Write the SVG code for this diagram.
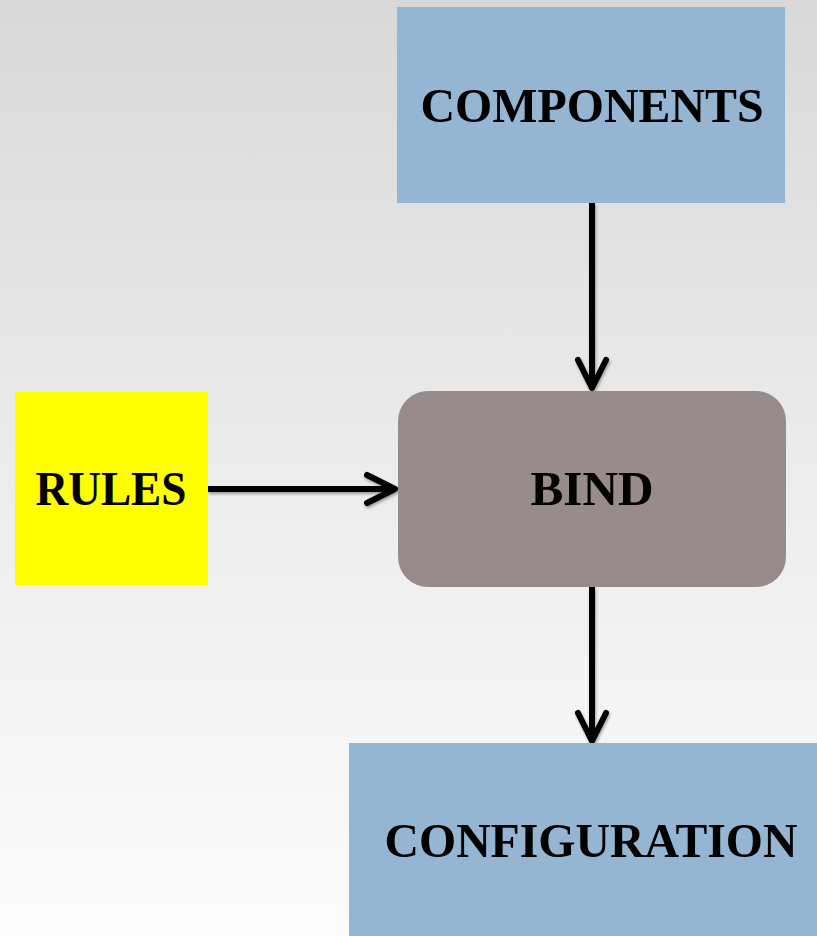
<svg xmlns="http://www.w3.org/2000/svg" width="817" height="936" viewBox="0 0 817 936">
  <defs>
    <linearGradient id="bg" x1="0" y1="0" x2="0" y2="1">
      <stop offset="0" stop-color="#d8d8d8"/>
      <stop offset="0.5" stop-color="#ececec"/>
      <stop offset="1" stop-color="#fcfcfc"/>
    </linearGradient>
    <filter id="sh" filterUnits="userSpaceOnUse" x="0" y="0" width="817" height="936">
      <feDropShadow dx="1" dy="2" stdDeviation="1.5" flood-color="#000" flood-opacity="0.35"/>
    </filter>
    <marker id="arr" markerUnits="userSpaceOnUse" markerWidth="40" markerHeight="40" viewBox="-34 -20 40 40" refX="0" refY="0" orient="auto">
      <path d="M-28,-14 L0,0 L-28,14" fill="none" stroke="#000" stroke-width="6" stroke-linecap="round" stroke-linejoin="round"/>
    </marker>
    <style>
      .lbl { font-family: "Liberation Serif", "Times New Roman", serif; font-weight: bold; font-size: 49px; fill: #000; text-anchor: middle; }
      .blue { fill: #94b6d3; }
      .conn { stroke: #000; stroke-width: 6; fill: none; marker-end: url(#arr); }
    </style>
  </defs>
  <rect x="0" y="0" width="817" height="936" fill="url(#bg)"/>

  <g id="connectors" filter="url(#sh)">
    <line class="conn" x1="592" y1="203" x2="592" y2="388"/>
    <line class="conn" x1="208" y1="489" x2="395" y2="489"/>
    <line class="conn" x1="592" y1="587" x2="592" y2="741"/>
  </g>

  <g id="components">
    <rect class="blue" x="397" y="7" width="388" height="196"/>
    <text class="lbl" x="592" y="122" textLength="343" lengthAdjust="spacingAndGlyphs">COMPONENTS</text>
  </g>

  <g id="rules">
    <rect x="15" y="392" width="193" height="193" fill="#ffff00"/>
    <text class="lbl" x="111" y="505" textLength="151" lengthAdjust="spacingAndGlyphs">RULES</text>
  </g>

  <g id="bind">
    <rect x="398" y="391" width="388" height="196" rx="30" ry="30" fill="#978c8b"/>
    <text class="lbl" x="592" y="505" textLength="123" lengthAdjust="spacingAndGlyphs">BIND</text>
  </g>

  <g id="configuration">
    <rect class="blue" x="349" y="743" width="470" height="195"/>
    <text class="lbl" x="591" y="857" textLength="413" lengthAdjust="spacingAndGlyphs">CONFIGURATION</text>
  </g>
</svg>
